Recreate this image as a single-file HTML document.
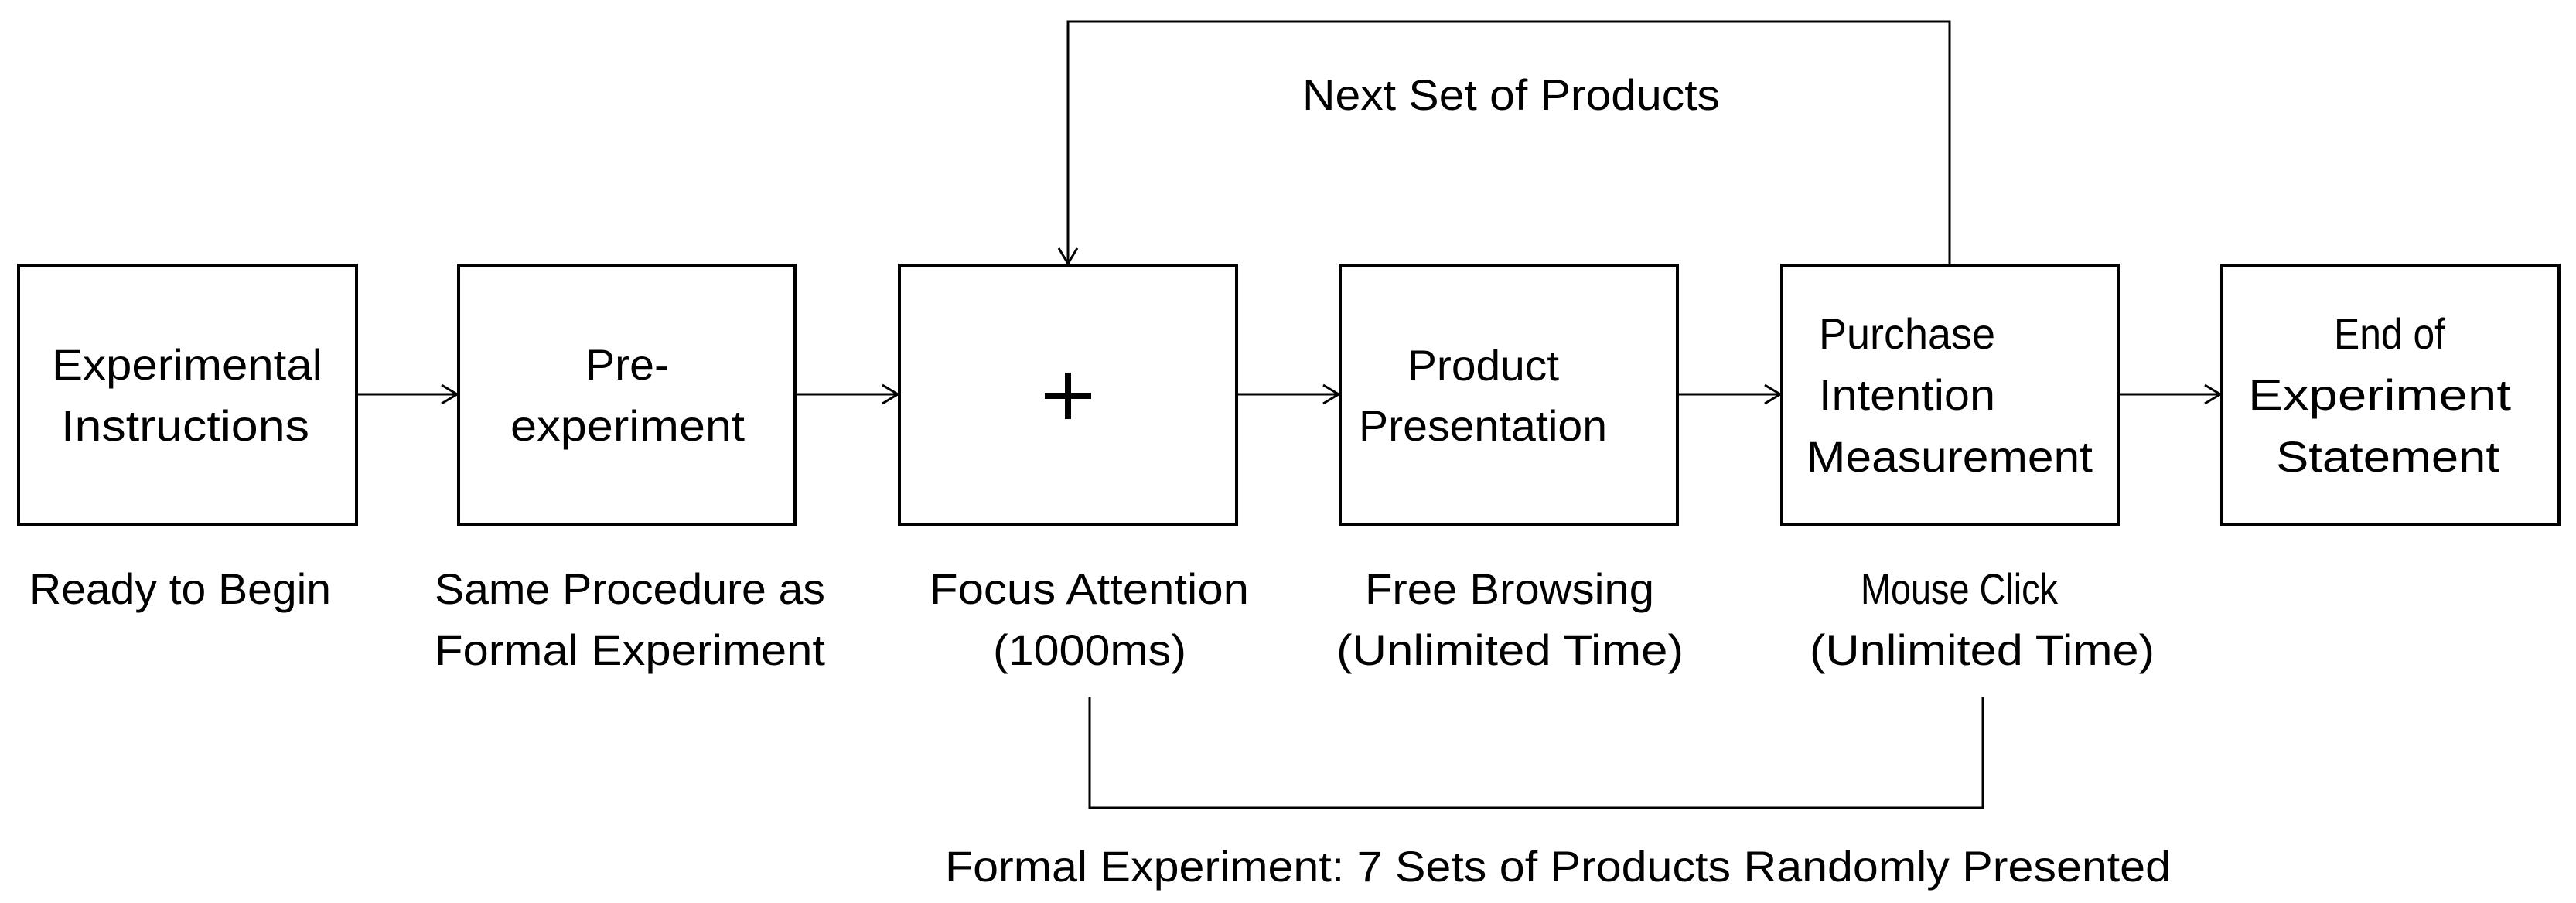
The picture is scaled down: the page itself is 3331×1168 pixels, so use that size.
<!DOCTYPE html>
<html><head><meta charset="utf-8"><style>
html,body{margin:0;padding:0;background:#fff;}
svg{display:block;}
text{font-family:"Liberation Sans",sans-serif;font-size:56px;fill:#000;}
</style></head><body>
<svg width="3331" height="1168" viewBox="0 0 3331 1168" xmlns="http://www.w3.org/2000/svg">
<g fill="none" stroke="#000" stroke-width="4">
<rect x="24" y="343" width="437" height="335"/>
<rect x="593" y="343" width="435" height="335"/>
<rect x="1163" y="343" width="436" height="335"/>
<rect x="1733" y="343" width="436" height="335"/>
<rect x="2304" y="343" width="435" height="335"/>
<rect x="2873" y="343" width="436" height="335"/>
</g>
<g fill="none" stroke="#000" stroke-width="3">
<path d="M461 510H591M571 498L591 510L571 522"/>
<path d="M1028 510H1161M1141 498L1161 510L1141 522"/>
<path d="M1599 510H1731M1711 498L1731 510L1711 522"/>
<path d="M2169 510H2302M2282 498L2302 510L2282 522"/>
<path d="M2739 510H2871M2851 498L2871 510L2851 522"/>
<path d="M2521 341V28H1381V341M1369 321L1381 341L1393 321"/>
<path d="M1409 902V1045H2564V902"/>
</g>
<g stroke="#000" stroke-width="8">
<path d="M1351 512H1411M1381 482V542"/>
</g>
<text x="67" y="491" textLength="350" lengthAdjust="spacingAndGlyphs">Experimental</text>
<text x="79" y="570" textLength="321" lengthAdjust="spacingAndGlyphs">Instructions</text>
<text x="757" y="491" textLength="108" lengthAdjust="spacingAndGlyphs">Pre-</text>
<text x="660" y="570" textLength="303" lengthAdjust="spacingAndGlyphs">experiment</text>
<text x="1820" y="492" textLength="196" lengthAdjust="spacingAndGlyphs">Product</text>
<text x="1757" y="570" textLength="321" lengthAdjust="spacingAndGlyphs">Presentation</text>
<text x="2352" y="451" textLength="228" lengthAdjust="spacingAndGlyphs">Purchase</text>
<text x="2352" y="530" textLength="228" lengthAdjust="spacingAndGlyphs">Intention</text>
<text x="2336" y="610" textLength="370" lengthAdjust="spacingAndGlyphs">Measurement</text>
<text x="3018" y="451" textLength="144" lengthAdjust="spacingAndGlyphs">End of</text>
<text x="2907" y="530" textLength="340" lengthAdjust="spacingAndGlyphs">Experiment</text>
<text x="2943" y="610" textLength="289" lengthAdjust="spacingAndGlyphs">Statement</text>
<text x="38" y="781" textLength="390" lengthAdjust="spacingAndGlyphs">Ready to Begin</text>
<text x="562" y="781" textLength="505" lengthAdjust="spacingAndGlyphs">Same Procedure as</text>
<text x="562" y="860" textLength="505" lengthAdjust="spacingAndGlyphs">Formal Experiment</text>
<text x="1202" y="781" textLength="413" lengthAdjust="spacingAndGlyphs">Focus Attention</text>
<text x="1284" y="860" textLength="250" lengthAdjust="spacingAndGlyphs">(1000ms)</text>
<text x="1765" y="781" textLength="374" lengthAdjust="spacingAndGlyphs">Free Browsing</text>
<text x="1728" y="860" textLength="449" lengthAdjust="spacingAndGlyphs">(Unlimited Time)</text>
<text x="2406" y="781" textLength="255" lengthAdjust="spacingAndGlyphs">Mouse Click</text>
<text x="2340" y="860" textLength="446" lengthAdjust="spacingAndGlyphs">(Unlimited Time)</text>
<text x="1684" y="142" textLength="540" lengthAdjust="spacingAndGlyphs">Next Set of Products</text>
<text x="1222" y="1140" textLength="1585" lengthAdjust="spacingAndGlyphs">Formal Experiment: 7 Sets of Products Randomly Presented</text>
</svg>
</body></html>
